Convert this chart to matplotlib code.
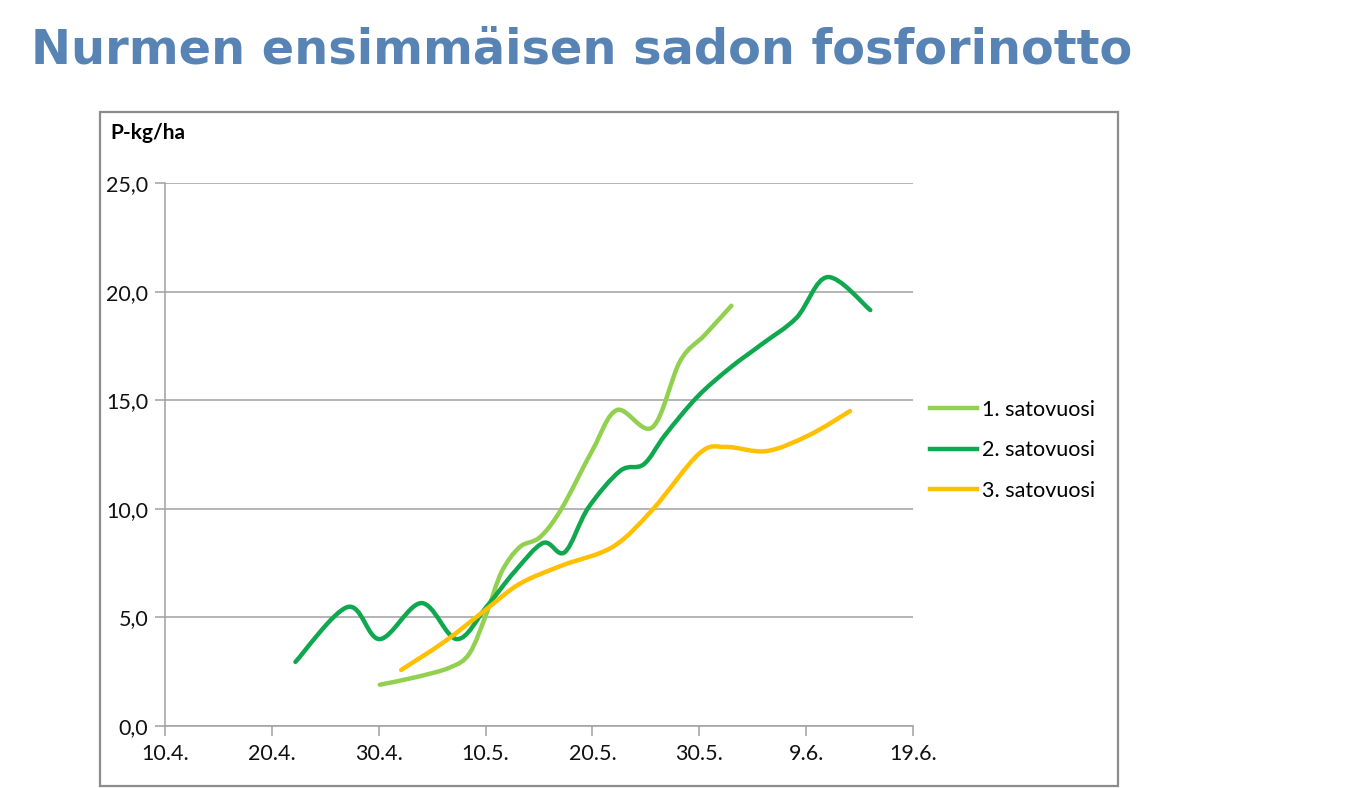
import matplotlib
matplotlib.use("Agg")
import matplotlib.pyplot as plt
from matplotlib.path import Path
from matplotlib.patches import PathPatch, Rectangle
from matplotlib.lines import Line2D
from matplotlib.ticker import FuncFormatter

# values: x = days after 10.4., y = P-kg/ha
days_1 = [20.1, 23.5, 26.7, 28.5, 30.1, 31.5, 33.2, 35.1, 37.1, 40.0, 42.3,
          45.6, 48.2, 50.5, 53.0]
vals_1 = [1.9, 2.25, 2.7, 3.35, 5.2, 7.1, 8.24, 8.7, 10.0, 12.7, 14.55,
          13.75, 16.8, 18.0, 19.35]

days_2 = [12.2, 17.1, 20.1, 24.0, 27.3, 30.1, 32.7, 35.4, 37.4, 39.6, 42.6,
          44.8, 46.8, 49.8, 52.9, 55.9, 59.1, 62.0, 66.0]
vals_2 = [2.95, 5.48, 4.0, 5.66, 4.0, 5.5, 7.1, 8.43, 8.0, 10.04, 11.75,
          12.05, 13.4, 15.15, 16.5, 17.6, 18.8, 20.67, 19.15]

days_3 = [22.1, 26.2, 30.0, 33.2, 37.2, 41.9, 45.6, 50.0, 52.5, 56.3, 60.3, 64.1]
vals_3 = [2.58, 3.9, 5.35, 6.55, 7.4, 8.25, 9.95, 12.55, 12.85, 12.66, 13.4, 14.5]

labels = ["1. satovuosi", "2. satovuosi", "3. satovuosi"]
colors = ["#92D050", "#10A84E", "#FFC000"]
tick_days = [0, 10, 20, 30, 40, 50, 60, 70]
tick_labels = ["10.4.", "20.4.", "30.4.", "10.5.", "20.5.", "30.5.", "9.6.", "19.6."]
y_ticks = [0, 5, 10, 15, 20, 25]


def smooth_path(xs, ys):
    # Excel-style smoothed line: cubic Bezier segments through the points
    pts = list(zip(xs, ys))
    verts = [pts[0]]
    codes = [Path.MOVETO]
    n = len(pts)
    for i in range(n - 1):
        p0 = pts[i - 1] if i > 0 else pts[i]
        p1 = pts[i]
        p2 = pts[i + 1]
        p3 = pts[i + 2] if i + 2 < n else pts[i + 1]
        c1 = (p1[0] + (p2[0] - p0[0]) / 6, p1[1] + (p2[1] - p0[1]) / 6)
        c2 = (p2[0] - (p3[0] - p1[0]) / 6, p2[1] - (p3[1] - p1[1]) / 6)
        verts += [c1, c2, p2]
        codes += [Path.CURVE4] * 3
    return Path(verts, codes)


plt.rcParams['font.family'] = ['Lato', 'DejaVu Sans']

fig = plt.figure(figsize=(13.65, 7.88), dpi=100)
fig.patch.set_facecolor("white")

fig.text(0.023, 0.936, "Nurmen ensimmäisen sadon fosforinotto", fontsize=34.5,
         fontweight="bold", color="#5884B5", family="DejaVu Sans", va="center")

fig.patches.append(Rectangle((0.0733, 0.002), 0.7457, 0.856, transform=fig.transFigure,
                             fill=False, edgecolor="#8C8C8C", linewidth=1.6))

ax = fig.add_axes([0.1209, 0.0787, 0.548, 0.689])

series = [(days_1, vals_1), (days_2, vals_2), (days_3, vals_3)]
handles = []
for (ds, vs), lab, col in zip(series, labels, colors):
    ax.add_patch(PathPatch(smooth_path(ds, vs), fill=False, edgecolor=col, linewidth=3.2,
                           capstyle="round", joinstyle="round", zorder=3))
    handles.append(Line2D([], [], color=col, linewidth=3.2, label=lab))

ax.set_xlim(0, 70)
ax.set_ylim(0, 25)
ax.set_xticks(tick_days)
ax.set_xticklabels(tick_labels)
ax.set_yticks(y_ticks)
ax.yaxis.set_major_formatter(FuncFormatter(lambda v, p: f"{v:.1f}".replace(".", ",")))
ax.grid(axis="y", color="#A0A0A0", linewidth=1.1)
ax.set_axisbelow(True)
for s in ["top", "right"]:
    ax.spines[s].set_visible(False)
for s in ["left", "bottom"]:
    ax.spines[s].set_color("#A0A0A0")
    ax.spines[s].set_linewidth(1.1)
ax.tick_params(axis="both", direction="out", length=7, width=1.1, color="#A0A0A0",
               labelsize=15.5, labelcolor="#111111")
ax.tick_params(axis="y", pad=5)
ax.tick_params(axis="x", pad=6)

fig.text(0.0805, 0.831, "P-kg/ha", fontsize=15, fontweight="bold", va="center")

ax.legend(handles=handles, loc="center left", bbox_to_anchor=(1.022, 0.508),
          frameon=False, fontsize=15.5, handlelength=2.2, handletextpad=0.25,
          labelspacing=0.95, borderpad=0, borderaxespad=0)

fig.savefig("out.png", dpi=100, facecolor="white")
